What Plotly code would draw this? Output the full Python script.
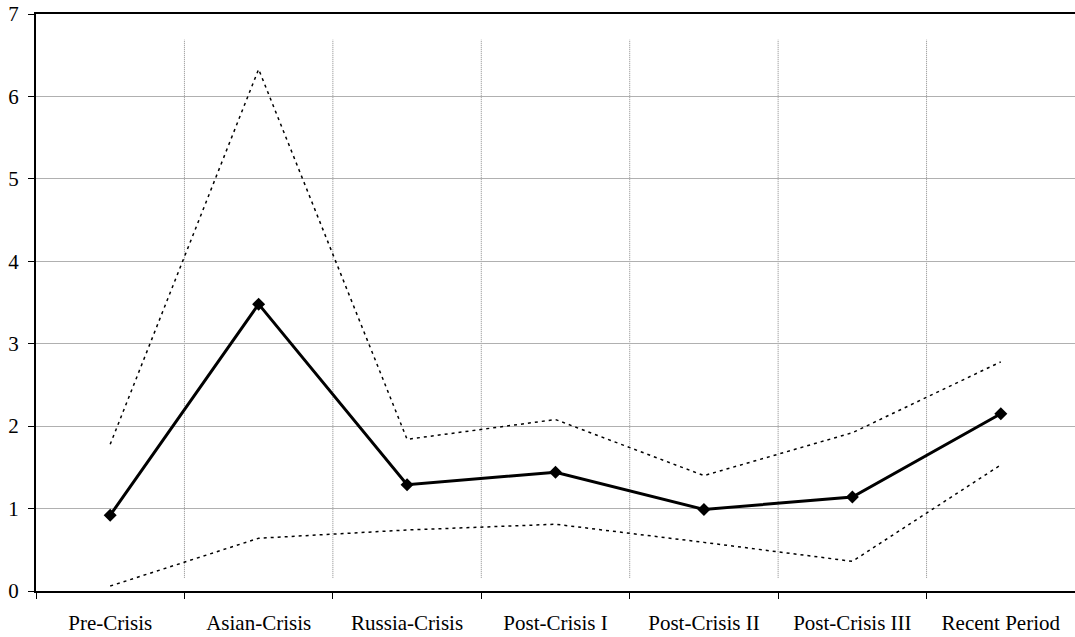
import plotly.graph_objects as go

# Period labels and estimated values
periods = ["Pre-Crisis", "Asian-Crisis", "Russia-Crisis", "Post-Crisis I",
           "Post-Crisis II", "Post-Crisis III", "Recent Period"]
estimate = [0.92, 3.48, 1.29, 1.44, 0.99, 1.14, 2.15]
upper_band = [1.78, 6.33, 1.84, 2.08, 1.40, 1.92, 2.78]
lower_band = [0.06, 0.64, 0.74, 0.81, 0.59, 0.36, 1.53]
y_ticks = [0, 1, 2, 3, 4, 5, 6, 7]

FONT = "Liberation Serif, Times New Roman, serif"

fig = go.Figure()

fig.add_trace(go.Scatter(
    x=periods, y=upper_band, mode="lines",
    line=dict(color="black", width=1.5, dash="3px,4px"),
    showlegend=False, hoverinfo="skip"))
fig.add_trace(go.Scatter(
    x=periods, y=lower_band, mode="lines",
    line=dict(color="black", width=1.5, dash="3px,4px"),
    showlegend=False, hoverinfo="skip"))
fig.add_trace(go.Scatter(
    x=periods, y=estimate, mode="lines+markers",
    line=dict(color="black", width=3),
    marker=dict(symbol="diamond", size=10, color="black"),
    showlegend=False))

# Dotted separators between periods
for i in range(len(periods) - 1):
    fig.add_shape(type="line", xref="x", yref="y",
                  x0=i + 0.5, x1=i + 0.5, y0=0.16, y1=6.69,
                  line=dict(color="#8a8a8a", width=1, dash="1px,1px"),
                  layer="below")

fig.update_layout(
    width=1075, height=637,
    margin=dict(l=36, r=0, t=14, b=46),
    paper_bgcolor="white", plot_bgcolor="white",
    font=dict(family=FONT, size=21, color="black"),
    xaxis=dict(
        type="category", categoryorder="array", categoryarray=periods,
        range=[-0.5, 6.5], tickson="boundaries",
        ticks="outside", ticklen=6, tickwidth=1, tickcolor="black",
        ticklabelstandoff=12,
        showgrid=False, showline=True, linecolor="black", linewidth=2,
        mirror=True, zeroline=False,
        tickfont=dict(family=FONT, size=21, color="black")),
    yaxis=dict(
        range=[0, 7], tickmode="array", tickvals=y_ticks,
        ticks="outside", ticklen=6, tickwidth=1, tickcolor="black",
        ticklabelstandoff=5,
        showgrid=True, gridcolor="#b0b0b0", gridwidth=1,
        showline=True, linecolor="black", linewidth=2, zeroline=False,
        tickfont=dict(family=FONT, size=21, color="black")),
)

fig.write_html("out.html")
